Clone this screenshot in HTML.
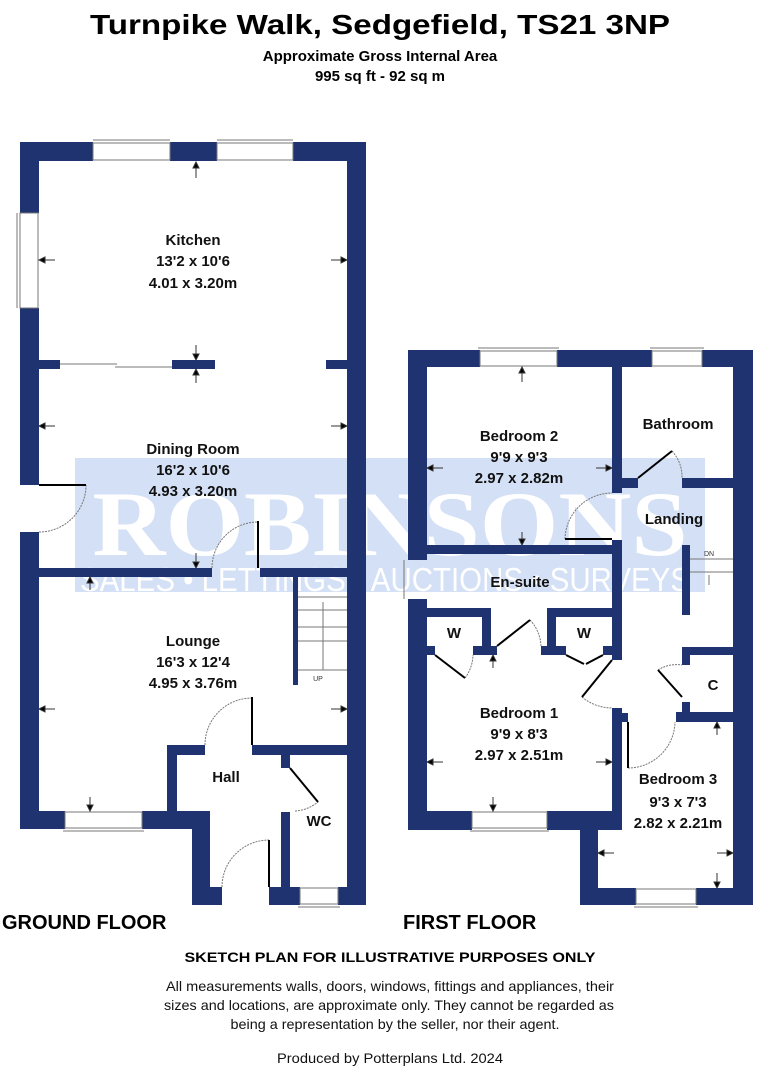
<!DOCTYPE html>
<html><head><meta charset="utf-8"><style>
html,body{margin:0;padding:0;background:#fff}
svg{display:block}
</style></head><body>
<svg width="779" height="1080" viewBox="0 0 779 1080" xmlns="http://www.w3.org/2000/svg" font-family="Liberation Sans, Arial, sans-serif">
<rect width="779" height="1080" fill="#fff"/>
<!-- titles -->
<text x="380" y="34" font-size="28" font-weight="bold" text-anchor="middle" textLength="580" lengthAdjust="spacingAndGlyphs">Turnpike Walk, Sedgefield, TS21 3NP</text>
<text x="380" y="61" font-size="15" font-weight="bold" text-anchor="middle">Approximate Gross Internal Area</text>
<text x="380" y="81" font-size="15" font-weight="bold" text-anchor="middle">995 sq ft - 92 sq m</text>

<!-- watermark -->
<rect x="75" y="458" width="630" height="134" fill="#d4e0f5"/>
<text x="390" y="555" style="font-family:'Liberation Serif',serif" font-size="92" font-weight="bold" fill="#fff" text-anchor="middle" textLength="595" lengthAdjust="spacingAndGlyphs">ROBINSONS</text>
<text x="385" y="591" font-size="33" fill="#fff" text-anchor="middle" textLength="610" lengthAdjust="spacingAndGlyphs">SALES • LETTINGS • AUCTIONS • SURVEYS</text>

<g fill="#1f3370">
<!-- GROUND FLOOR -->
<rect x="20" y="142" width="73" height="19"/>
<rect x="170" y="142" width="47" height="19"/>
<rect x="293" y="142" width="73" height="19"/>
<rect x="20" y="142" width="19" height="71"/>
<rect x="20" y="308" width="19" height="177"/>
<rect x="20" y="532" width="19" height="297"/>
<rect x="347" y="142" width="19" height="763"/>
<rect x="39" y="360" width="21" height="9"/>
<rect x="172" y="360" width="43" height="9"/>
<rect x="326" y="360" width="21" height="9"/>
<rect x="39" y="568" width="173" height="9"/>
<rect x="260" y="568" width="87" height="9"/>
<rect x="293" y="577" width="5" height="108"/>
<rect x="20" y="811" width="45" height="18"/>
<rect x="142" y="811" width="68" height="18"/>
<rect x="167" y="745" width="38" height="10"/>
<rect x="252" y="745" width="95" height="10"/>
<rect x="167" y="745" width="10" height="66"/>
<rect x="192" y="811" width="18" height="94"/>
<rect x="192" y="887" width="30" height="18"/>
<rect x="269" y="887" width="31" height="18"/>
<rect x="338" y="887" width="28" height="18"/>
<rect x="281" y="755" width="9" height="13"/>
<rect x="281" y="812" width="9" height="75"/>
<!-- FIRST FLOOR -->
<rect x="408" y="350" width="72" height="17"/>
<rect x="557" y="350" width="95" height="17"/>
<rect x="702" y="350" width="51" height="17"/>
<rect x="408" y="350" width="19" height="210"/>
<rect x="408" y="599" width="19" height="231"/>
<rect x="733" y="350" width="20" height="555"/>
<rect x="612" y="367" width="10" height="126"/>
<rect x="622" y="478" width="16" height="10"/>
<rect x="682" y="478" width="51" height="10"/>
<rect x="612" y="540" width="10" height="120"/>
<rect x="427" y="545" width="185" height="9"/>
<rect x="408" y="608" width="82" height="9"/>
<rect x="482" y="608" width="9" height="47"/>
<rect x="427" y="646" width="8" height="9"/>
<rect x="473" y="646" width="24" height="9"/>
<rect x="547" y="608" width="65" height="9"/>
<rect x="547" y="608" width="9" height="47"/>
<rect x="541" y="646" width="25" height="9"/>
<rect x="603" y="646" width="19" height="9"/>
<rect x="682" y="545" width="8" height="70"/>
<rect x="682" y="647" width="51" height="8"/>
<rect x="682" y="647" width="8" height="18"/>
<rect x="682" y="702" width="8" height="10"/>
<rect x="676" y="712" width="57" height="10"/>
<rect x="612" y="708" width="10" height="104"/>
<rect x="622" y="713" width="6" height="9"/>
<rect x="427" y="811" width="45" height="19"/>
<rect x="547" y="811" width="75" height="19"/>
<rect x="580" y="811" width="18" height="94"/>
<rect x="580" y="888" width="56" height="17"/>
<rect x="696" y="888" width="57" height="17"/>
</g>

<g stroke="#777" stroke-width="1" fill="none">
<!-- windows -->
<rect x="93" y="143" width="77" height="17"/><line x1="93" y1="140" x2="170" y2="140"/>
<rect x="217" y="143" width="76" height="17"/><line x1="217" y1="140" x2="293" y2="140"/>
<rect x="20" y="213" width="18" height="95"/><line x1="17" y1="213" x2="17" y2="308"/>
<rect x="65" y="812" width="77" height="16"/><line x1="63" y1="831" x2="144" y2="831"/>
<rect x="300" y="888" width="38" height="16"/><line x1="298" y1="907" x2="340" y2="907"/>
<rect x="480" y="351" width="77" height="15"/><line x1="478" y1="348" x2="559" y2="348"/>
<rect x="652" y="351" width="50" height="15"/><line x1="650" y1="348" x2="704" y2="348"/>
<rect x="472" y="812" width="75" height="16"/><line x1="470" y1="831" x2="549" y2="831"/>
<rect x="636" y="889" width="60" height="15"/><line x1="634" y1="907" x2="698" y2="907"/>
<line x1="404" y1="560" x2="404" y2="599"/>
<!-- sliding door -->
<path d="M60 364 H117 M115 367 H172"/>
<!-- door arcs -->
<path d="M39 532 A47 47 0 0 0 86 485" stroke-dasharray="2 1"/>
<path d="M212 568 A46 46 0 0 1 258 522" stroke-dasharray="2 1"/>
<path d="M205 745 A47 47 0 0 1 252 698" stroke-dasharray="2 1"/>
<path d="M222 887 A47 47 0 0 1 269 840" stroke-dasharray="2 1"/>
<path d="M295 811 A40 40 0 0 0 318 802" stroke-dasharray="2 1"/>
<path d="M565 539 A47 47 0 0 1 612 493" stroke-dasharray="2 1"/>
<path d="M672 451 A38 38 0 0 1 682 478" stroke-dasharray="2 1"/>
<path d="M530 620 A40 40 0 0 1 541 646" stroke-dasharray="2 1"/>
<path d="M465 678 A40 40 0 0 0 473 655" stroke-dasharray="2 1"/>
<path d="M582 697 A47 47 0 0 0 612 708" stroke-dasharray="2 1"/>
<path d="M658 670 A35 35 0 0 1 682 665" stroke-dasharray="2 1"/>
<path d="M628 768 A47 47 0 0 0 675 722" stroke-dasharray="2 1"/>
<!-- stairs -->
<path d="M298 597 H347 M298 610 H347 M298 627 H347 M298 641 H347 M298 670 H347 M323 602 V670"/>
<path d="M690 559 H733 M690 572 H733 M709 575 V585"/>
</g>
<g stroke="#000" stroke-width="2" fill="none">
<path d="M39 485 H86"/><path d="M258 521 V568"/><path d="M252 697 V745"/><path d="M269 840 V887"/>
<path d="M290 768 L318 802"/>
<path d="M565 539 H612"/><path d="M638 478 L672 451"/>
<path d="M497 646 L530 620"/><path d="M435 655 L465 678"/>
<path d="M566 655 L584 664 M603 655 L586 664"/>
<path d="M612 660 L582 697"/><path d="M658 670 L682 697"/><path d="M628 722 V768"/>
</g>
<!-- arrows -->
<g stroke="#333" stroke-width="1" fill="#000">
<path d="M196 178 V165"/><path d="M193 168 L196 162 L199 168Z"/>
<path d="M55 260 H42"/><path d="M45 257 L39 260 L45 263Z"/>
<path d="M331 260 H344"/><path d="M341 257 L347 260 L341 263Z"/>
<path d="M196 345 V357"/><path d="M193 354 L196 360 L199 354Z"/>
<path d="M196 383 V372"/><path d="M193 375 L196 369 L199 375Z"/>
<path d="M55 426 H42"/><path d="M45 423 L39 426 L45 429Z"/>
<path d="M331 426 H344"/><path d="M341 423 L347 426 L341 429Z"/>
<path d="M196 553 V565"/><path d="M193 562 L196 568 L199 562Z"/>
<path d="M90 590 V580"/><path d="M87 583 L90 577 L93 583Z"/>
<path d="M55 709 H42"/><path d="M45 706 L39 709 L45 712Z"/>
<path d="M331 709 H344"/><path d="M341 706 L347 709 L341 712Z"/>
<path d="M90 797 V808"/><path d="M87 805 L90 811 L93 805Z"/>
<path d="M522 382 V370"/><path d="M519 373 L522 367 L525 373Z"/>
<path d="M443 468 H430"/><path d="M433 465 L427 468 L433 471Z"/>
<path d="M596 468 H609"/><path d="M606 465 L612 468 L606 471Z"/>
<path d="M522 532 V542"/><path d="M519 539 L522 545 L525 539Z"/>
<path d="M493 668 V658"/><path d="M490 661 L493 655 L496 661Z"/>
<path d="M443 762 H430"/><path d="M433 759 L427 762 L433 765Z"/>
<path d="M596 762 H609"/><path d="M606 759 L612 762 L606 765Z"/>
<path d="M493 797 V808"/><path d="M490 805 L493 811 L496 805Z"/>
<path d="M717 735 V725"/><path d="M714 728 L717 722 L720 728Z"/>
<path d="M614 853 H601"/><path d="M604 850 L598 853 L604 856Z"/>
<path d="M717 853 H730"/><path d="M727 850 L733 853 L727 856Z"/>
<path d="M717 873 V885"/><path d="M714 882 L717 888 L720 882Z"/>
</g>
<text x="318" y="681" font-size="7" fill="#333" text-anchor="middle">UP</text>
<text x="709" y="556" font-size="7" fill="#333" text-anchor="middle">DN</text>

<!-- room labels -->
<g font-size="15" font-weight="bold" text-anchor="middle" fill="#111">
<text x="193" y="245">Kitchen</text><text x="193" y="266">13'2 x 10'6</text><text x="193" y="288">4.01 x 3.20m</text>
<text x="193" y="454">Dining Room</text><text x="193" y="475">16'2 x 10'6</text><text x="193" y="496">4.93 x 3.20m</text>
<text x="193" y="646">Lounge</text><text x="193" y="667">16'3 x 12'4</text><text x="193" y="688">4.95 x 3.76m</text>
<text x="226" y="782">Hall</text>
<text x="319" y="826">WC</text>
<text x="519" y="441">Bedroom 2</text><text x="519" y="462">9'9 x 9'3</text><text x="519" y="483">2.97 x 2.82m</text>
<text x="678" y="429">Bathroom</text>
<text x="674" y="524">Landing</text>
<text x="520" y="587">En-suite</text>
<text x="454" y="638">W</text><text x="584" y="638">W</text>
<text x="713" y="690">C</text>
<text x="519" y="718">Bedroom 1</text><text x="519" y="739">9'9 x 8'3</text><text x="519" y="760">2.97 x 2.51m</text>
<text x="678" y="784">Bedroom 3</text><text x="678" y="807">9'3 x 7'3</text><text x="678" y="828">2.82 x 2.21m</text>
</g>

<text x="2" y="929" font-size="20" font-weight="bold">GROUND FLOOR</text>
<text x="403" y="929" font-size="20" font-weight="bold">FIRST FLOOR</text>
<text x="390" y="962" font-size="14" font-weight="bold" text-anchor="middle" textLength="411" lengthAdjust="spacingAndGlyphs">SKETCH PLAN FOR ILLUSTRATIVE PURPOSES ONLY</text>
<g font-size="14" text-anchor="middle" fill="#111">
<text x="390" y="991" textLength="448" lengthAdjust="spacingAndGlyphs">All measurements walls, doors, windows, fittings and appliances, their</text>
<text x="389" y="1010" textLength="450" lengthAdjust="spacingAndGlyphs">sizes and locations, are approximate only. They cannot be regarded as</text>
<text x="395" y="1029" textLength="329" lengthAdjust="spacingAndGlyphs">being a representation by the seller, nor their agent.</text>
<text x="390" y="1063" textLength="226" lengthAdjust="spacingAndGlyphs">Produced by Potterplans Ltd. 2024</text>
</g>
</svg>
</body></html>
